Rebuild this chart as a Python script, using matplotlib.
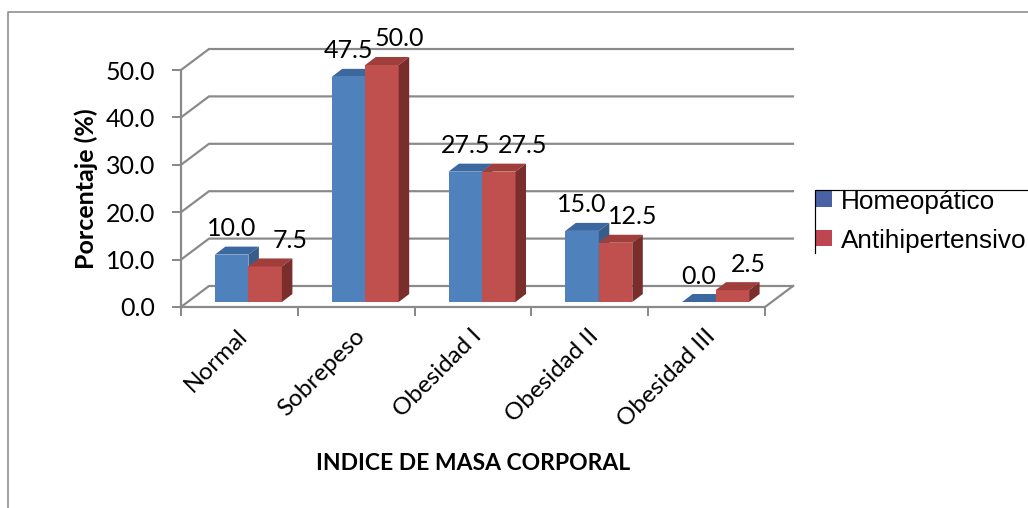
import matplotlib
matplotlib.use('Agg')
import matplotlib.pyplot as plt
from matplotlib.patches import Polygon, Rectangle
from matplotlib.lines import Line2D
from matplotlib.transforms import ScaledTranslation
import numpy as np

# ---------------- data ----------------
categories = ['Normal', 'Sobrepeso', 'Obesidad I', 'Obesidad II', 'Obesidad III']
series_names = ['Homeopático', 'Antihipertensivo']
homeopatico = [10.0, 47.5, 27.5, 15.0, 0.0]
antihipertensivo = [7.5, 50.0, 27.5, 12.5, 2.5]
y_ticks = [0, 10, 20, 30, 40, 50]
y_label = 'Porcentaje (%)'
x_label = 'INDICE DE MASA CORPORAL'

# ---------------- style ----------------
W, H, DPI = 1028, 508, 100
FONT = 'Lato'
FS = 18              # regular text size (ticks, data labels)
FS_CAT = 17.5        # category labels
GRID = '#8a8a8a'
BLUE = dict(front='#4F81BD', top='#3C68A0', side='#385D8A')
RED = dict(front='#C0504D', top='#A03E3C', side='#7A2E2C')
BACK = (28, 21)      # depth of the floor/back wall, px (x right, y up)
PLANE = (9, 5)       # offset of the bar plane from the front plane, px
DEPTH = (10.5, 8)    # depth of each bar, px
BAR_W_PX = 33.5
RED_LABEL_DX = [25, 17, 24, 17, 16]   # px, horizontal nudge of red data labels
LABEL_DY = 18.5                        # px above bar front top

fig = plt.figure(figsize=(W / DPI, H / DPI), dpi=DPI)
fig.patch.set_facecolor('white')


def fx(px):
    return px / W


def fy(py):
    return 1 - py / H


def pt(px):
    return px * 72.0 / DPI


ax = fig.add_axes([fx(181), fy(307), fx(765) - fx(181), fy(70) - fy(307)])
n = len(categories)
ax.set_xlim(0, n)
ax.set_ylim(0, 50)
ax.patch.set_alpha(0)

ux = ax.bbox.width / n      # px per x unit
uy = ax.bbox.height / 50.0  # px per y unit


def shift(x, y, vec):
    return x + vec[0] / ux, y + vec[1] / uy


# ---------------- walls / grid ----------------
for t in y_ticks:
    xb, yb = shift(0, t, BACK)
    xe, _ = shift(n, t, BACK)
    ax.plot([0, xb, xe], [t, yb, yb], color=GRID, lw=pt(2.2), clip_on=False,
            zorder=1, solid_joinstyle='miter')
xr, yr = shift(n, 0, BACK)
ax.plot([n, xr], [0, yr], color=GRID, lw=pt(2.2), clip_on=False, zorder=1)

# spines
for s in ['top', 'right']:
    ax.spines[s].set_visible(False)
for s in ['left', 'bottom']:
    ax.spines[s].set_color(GRID)
    ax.spines[s].set_linewidth(pt(2.2))
    ax.spines[s].set_zorder(1.5)

ax.set_yticks(y_ticks)
ax.set_yticklabels([f'{v:.1f}' for v in y_ticks], fontsize=FS, family=FONT)
ax.set_xticks(np.arange(n + 1))
ax.set_xticklabels([])
ax.tick_params(axis='y', length=pt(9), width=pt(2), color=GRID, pad=pt(17))
ax.tick_params(axis='x', length=pt(9), width=pt(2), color=GRID)

# ---------------- bars ----------------
centers = np.arange(n) + 0.5
bw = BAR_W_PX / ux
base = PLANE[1] / uy
blue_left = centers + PLANE[0] / ux - bw
red_left = centers + PLANE[0] / ux


def draw_series(left, values, cols, z):
    bars = ax.bar(left, values, width=bw, bottom=base, align='edge',
                  color=cols['front'], linewidth=0, zorder=z, clip_on=False)
    for xl, v in zip(left, values):
        top = base + v
        p = [(xl, top), (xl + bw, top), shift(xl + bw, top, DEPTH), shift(xl, top, DEPTH)]
        ax.add_patch(Polygon(p, closed=True, facecolor=cols['top'], edgecolor='none',
                             zorder=z, clip_on=False))
        s = [(xl + bw, base), (xl + bw, top), shift(xl + bw, top, DEPTH),
             shift(xl + bw, base, DEPTH)]
        ax.add_patch(Polygon(s, closed=True, facecolor=cols['side'], edgecolor='none',
                             zorder=z, clip_on=False))
    return bars


draw_series(blue_left, homeopatico, BLUE, 3)
draw_series(red_left, antihipertensivo, RED, 4)

# data labels
for i in range(n):
    vb, vr = homeopatico[i], antihipertensivo[i]
    ax.annotate(f'{vb:.1f}', xy=(blue_left[i] + bw / 2, base + vb),
                xytext=(0, pt(LABEL_DY)), textcoords='offset points',
                ha='center', va='baseline', fontsize=FS, family=FONT, zorder=6,
                annotation_clip=False)
    ax.annotate(f'{vr:.1f}', xy=(red_left[i] + bw / 2, base + vr),
                xytext=(pt(RED_LABEL_DX[i]), pt(LABEL_DY)), textcoords='offset points',
                ha='center', va='baseline', fontsize=FS, family=FONT, zorder=6,
                annotation_clip=False)

# category labels
lab_tr = ax.get_xaxis_transform() + ScaledTranslation(5 / DPI, -26 / DPI, fig.dpi_scale_trans)
for c, name in zip(centers, categories):
    ax.text(c, 0, name, transform=lab_tr, rotation=45, rotation_mode='anchor',
            ha='right', va='center', fontsize=FS_CAT, family=FONT)

# axis titles
fig.text(fx(86), fy(189), y_label, rotation=90, ha='center', va='center',
         fontsize=18, fontweight='bold', family=FONT)
fig.text(fx(473), fy(463), x_label, ha='center', va='center',
         fontsize=16.5, fontweight='bold', family=FONT)

# ---------------- outer frame ----------------
fig.add_artist(Line2D([fx(8), fx(8), fx(1030)], [fy(510), fy(12), fy(12)],
                      color='#8c8c8c', lw=pt(1.6)))

# ---------------- legend (cropped box) ----------------
fig.add_artist(Line2D([fx(815), fx(815), fx(1030)], [fy(253), fy(190), fy(190)],
                      color='black', lw=pt(1.2)))
leg_cols = ['#4A62A5', '#BE4651']
leg_marker_top = [191, 230]
leg_baseline = [209, 248]
for name, col, mt, bl in zip(series_names, leg_cols, leg_marker_top, leg_baseline):
    fig.add_artist(Rectangle((fx(816), fy(mt + 16)), fx(16), 16 / H,
                             facecolor=col, edgecolor='none'))
    fig.text(fx(841), fy(bl), name, ha='left', va='baseline', fontsize=18.8,
             family='Liberation Sans')

fig.savefig('out.png', dpi=DPI)
